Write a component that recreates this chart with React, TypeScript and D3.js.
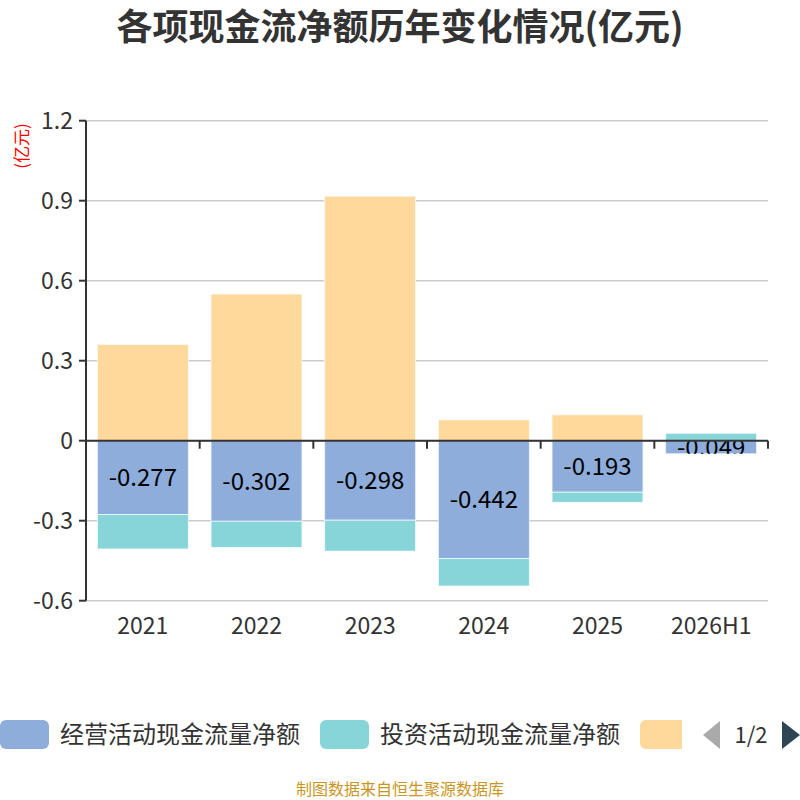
import React from 'react';
import * as d3 from 'd3';

// 各项现金流净额 (亿元)
const years = ['2021', '2022', '2023', '2024', '2025', '2026H1'];
const operating = [-0.277, -0.302, -0.298, -0.442, -0.193, -0.049];
const investing = [-0.129, -0.098, -0.116, -0.103, -0.038, 0.028];
const financing = [0.361, 0.55, 0.917, 0.078, 0.097, 0];
const seriesNames = ['经营活动现金流量净额', '投资活动现金流量净额', '筹资活动现金流量净额'];
const seriesColors = ['#8eaddb', '#87d5d9', '#fed99b'];
const yTicks = [-0.6, -0.3, 0, 0.3, 0.6, 0.9, 1.2];

const W = 800;
const H = 800;
const plot = { left: 86, right: 768, top: 120.7, bottom: 600.7 };
const font = '"Noto Sans CJK SC", "Noto Sans", sans-serif';

type Row = { year: string; op: number; inv: number; fin: number };

export default function App() {
    const rows: Row[] = years.map((y, i) => ({ year: y, op: operating[i], inv: investing[i], fin: financing[i] }));

    const x = d3.scaleBand<string>()
        .domain(years)
        .range([plot.left, plot.right])
        .paddingInner(0.2)
        .paddingOuter(0.1);

    const y = d3.scaleLinear()
        .domain([-0.6, 1.2])
        .range([plot.bottom, plot.top]);

    const stacked = d3.stack<Row>()
        .keys(['op', 'inv', 'fin'])
        .offset(d3.stackOffsetDiverging)(rows);

    const step = x.step();
    const boundaries = d3.range(years.length + 1).map(i => plot.left + i * step);

    return (
        <div style={{ position: 'absolute', left: 0, top: 0 }}>
            <svg width={W} height={H} style={{ display: 'block', fontFamily: font }}>
                <rect width={W} height={H} fill="#fff" />

                {/* title */}
                <text x={W / 2} y={40} textAnchor="middle" fontSize={36} fontWeight="bold" fill="#333">
                    各项现金流净额历年变化情况(亿元)
                </text>

                {/* grid lines */}
                {yTicks.map(t => (
                    <line key={t} x1={plot.left} x2={plot.right} y1={y(t)} y2={y(t)} stroke="#ccc" strokeWidth={1.5} />
                ))}

                <defs>
                    {stacked[0].map((d, i) => (
                        <clipPath id={`clip-${i}`} key={i}>
                            <rect x={x(years[i])} y={y(Math.max(d[0], d[1]))} width={x.bandwidth()}
                                height={Math.abs(y(d[0]) - y(d[1]))} />
                        </clipPath>
                    ))}
                </defs>

                {/* bars: operating first with its label, then the others */}
                {stacked[0].map((d, i) => (
                    <rect key={`op-${i}`} x={x(years[i])} y={y(Math.max(d[0], d[1]))} width={x.bandwidth()}
                        height={Math.abs(y(d[0]) - y(d[1]))} fill={seriesColors[0]}
                        stroke="#eef3fa" strokeWidth={0.8} />
                ))}
                {stacked[0].map((d, i) => (
                    <text key={`lab-${i}`} clipPath={`url(#clip-${i})`}
                        x={(x(years[i]) as number) + x.bandwidth() / 2}
                        y={(y(d[0]) + y(d[1])) / 2} dy="0.36em"
                        textAnchor="middle" fontSize={24} fill="#000">
                        {operating[i]}
                    </text>
                ))}
                {stacked.slice(1).map((s, si) => s.map((d, i) => (
                    Math.abs(d[1] - d[0]) > 0 ? (
                        <rect key={`${si}-${i}`} x={x(years[i])} y={y(Math.max(d[0], d[1]))} width={x.bandwidth()}
                            height={Math.abs(y(d[0]) - y(d[1]))} fill={seriesColors[si + 1]}
                            stroke="#f4fbfb" strokeWidth={0.8} />
                    ) : null
                )))}

                {/* x axis at zero */}
                <line x1={plot.left} x2={plot.right} y1={y(0)} y2={y(0)} stroke="#333" strokeWidth={2} />
                {boundaries.map((b, i) => (
                    <line key={i} x1={b} x2={b} y1={y(0)} y2={y(0) + 8} stroke="#333" strokeWidth={2} />
                ))}
                {years.map(yr => (
                    <text key={yr} x={(x(yr) as number) + x.bandwidth() / 2} y={634} textAnchor="middle"
                        fontSize={23} fill="#333">{yr}</text>
                ))}

                {/* y axis */}
                <line x1={plot.left} x2={plot.left} y1={plot.top} y2={plot.bottom} stroke="#333" strokeWidth={2} />
                {yTicks.map(t => (
                    <g key={t}>
                        <line x1={plot.left - 7} x2={plot.left} y1={y(t)} y2={y(t)} stroke="#333" strokeWidth={2} />
                        <text x={plot.left - 13} y={y(t)} dy="0.36em" textAnchor="end" fontSize={23} fill="#333">
                            {t}
                        </text>
                    </g>
                ))}
                <text transform={`translate(22, 146) rotate(-90)`} textAnchor="middle" fontSize={17}
                    fill="#ff0000" dy="0.36em">(亿元)</text>

                {/* legend (paged, third item cut) */}
                <defs>
                    <clipPath id="legend-clip">
                        <rect x={0} y={700} width={682} height={60} />
                    </clipPath>
                </defs>
                <g clipPath="url(#legend-clip)">
                    {seriesNames.map((n, i) => (
                        <g key={n} transform={`translate(${i * 320}, 720)`}>
                            <rect width={49} height={29} rx={6} fill={seriesColors[i]} />
                            <text x={60} y={14.5} dy="0.36em" fontSize={24} fill="#333">{n}</text>
                        </g>
                    ))}
                </g>
                <path d="M720,721 L703,735 L720,749 Z" fill="#aaa" />
                <text x={751} y={735} dy="0.36em" textAnchor="middle" fontSize={22} fill="#333">1/2</text>
                <path d="M782,721 L800,735 L782,749 Z" fill="#2f4554" />

                {/* source */}
                <text x={W / 2} y={789} dy="0.36em" textAnchor="middle" fontSize={16} fill="#c8961e">
                    制图数据来自恒生聚源数据库
                </text>
            </svg>
        </div>
    );
}
